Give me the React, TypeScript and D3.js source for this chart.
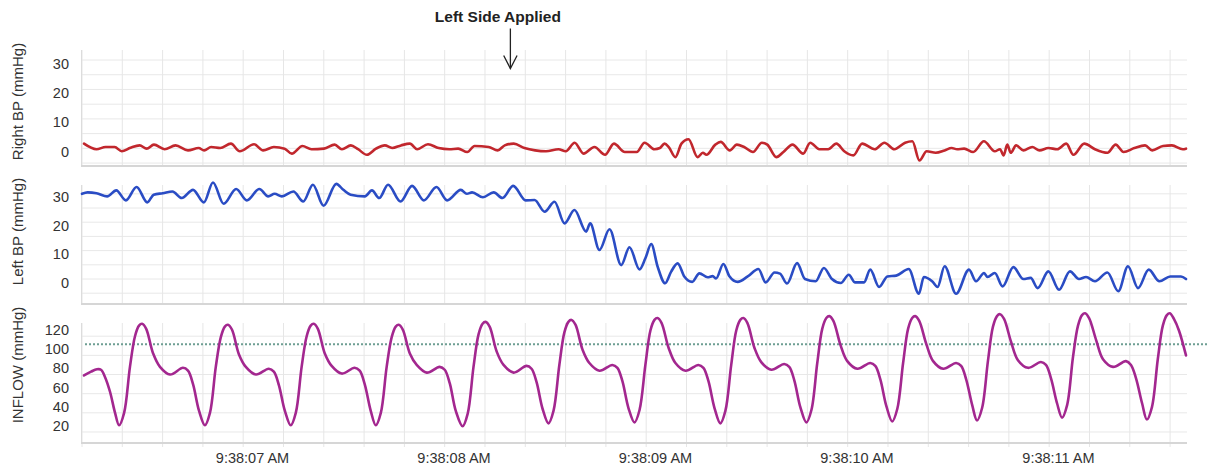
import React from 'react';
import * as d3 from 'd3';

const W = 1207;
const H = 470;

// time axis: milliseconds after 9:38:06.000 AM
const timeDomain: [number, number] = [200, 5679];
const gridTimes = [200, 400, 600, 800, 1000, 1200, 1400, 1600, 1800, 2000, 2200, 2400, 2600, 2800, 3000, 3200, 3400, 3600, 3800, 4000, 4200, 4400, 4600, 4800, 5000, 5200, 5400, 5600];
const tickTimes = [1000, 2000, 3000, 4000, 5000];
const tickLabels = ['9:38:07 AM', '9:38:08 AM', '9:38:09 AM', '9:38:10 AM', '9:38:11 AM'];

const bpTicks = [0, 10, 20, 30];
const bpGrid = [-5, 0, 5, 10, 15, 20, 25, 30];
const inflowTicks = [20, 40, 60, 80, 100, 120];
const inflowGrid = [10, 30, 50, 70, 90, 110];
const inflowThreshold = 101.5;

const annotationTime = 2326;
const annotationText = 'Left Side Applied';

// [ms, mmHg]
const rightBP: [number, number][] = [
  [210, 1.6], [272, -0.3], [317, 0.45], [362, 0.45], [397, -1.0], [441, 0.2], [486, 1.0], [521, -0.1], [557, 1.25], [610, -0.3],
  [664, 1.0], [726, -0.7], [779, 0.1], [806, -0.7], [841, 0.45], [886, 0.1], [939, 1.6], [983, -1.0], [1054, 1.4], [1099, -0.7],
  [1152, 0.45], [1206, -0.1], [1241, -1.8], [1294, 0.8], [1339, -0.3], [1401, -0.1], [1454, 1.25], [1490, -0.3], [1534, 1.0], [1570, -0.3],
  [1614, -2.2], [1659, -0.1], [1703, 1.0], [1739, 0.1], [1783, 1.0], [1827, 1.6], [1863, -0.3], [1917, 1.4], [1970, 0.1], [2023, -0.3],
  [2067, -0.1], [2112, -1.25], [2148, 0.8], [2218, 0.45], [2263, -0.7], [2298, 1.0], [2343, 1.6], [2396, 0.1], [2449, -0.7], [2503, -1.0],
  [2565, -0.3], [2601, -1.0], [2645, 1.9], [2689, -1.8], [2743, 0.45], [2796, -2.2], [2840, 1.6], [2894, -1.25], [2953, -1.25], [2992, 1.9],
  [3041, -0.3], [3068, 0.1], [3091, 1.6], [3112, 0.45], [3145, -3.0], [3175, 1.6], [3210, 3.1], [3255, -3.0], [3281, -1.5], [3299, -2.2],
  [3343, 1.25], [3370, 2.2], [3415, -0.7], [3450, 1.25], [3486, 0.45], [3530, -1.25], [3574, 1.9], [3601, 1.25], [3646, -3.0], [3681, -1.25],
  [3726, 1.25], [3779, -1.8], [3814, 1.9], [3859, -0.3], [3903, -0.3], [3944, 1.6], [3983, -1.0], [4028, -2.4], [4072, 1.6], [4134, -0.3],
  [4182, 1.9], [4232, -0.3], [4285, 1.9], [4321, 2.4], [4356, -4.1], [4392, -1.0], [4437, -1.5], [4481, -0.7], [4516, 0.1], [4543, -0.3],
  [4578, -0.1], [4623, -1.25], [4676, 2.4], [4730, -1.0], [4756, -0.3], [4774, -2.4], [4792, 1.25], [4809, -1.5], [4836, 1.0], [4872, -0.7],
  [4916, 0.45], [4952, -0.7], [4996, 0.1], [5040, -0.3], [5085, 1.6], [5120, -2.2], [5174, 1.6], [5227, -0.3], [5289, -1.5], [5330, 1.25],
  [5369, -1.25], [5423, 0.1], [5476, 1.0], [5511, -0.7], [5565, 0.8], [5609, 1.0], [5663, -0.3], [5679, -0.1],
];

const leftBP: [number, number][] = [
  [200, 30], [228, 30.5], [272, 30.2], [325, 29.1], [370, 31.2], [418, 27.7], [471, 32.4], [524, 27], [556, 29.7], [601, 30.2],
  [649, 30.8], [695, 28.5], [751, 31.4], [805, 27], [850, 34], [903, 26.5], [965, 31.7], [1018, 27.7], [1080, 31.7], [1124, 29.1],
  [1156, 30], [1192, 29.1], [1249, 30.8], [1298, 27.3], [1346, 33.2], [1399, 25.8], [1462, 33.5], [1497, 31.4], [1533, 29.7], [1604, 29.1],
  [1639, 31.2], [1675, 28.5], [1719, 33.2], [1781, 27.3], [1838, 32.8], [1897, 27.7], [1959, 32.4], [2012, 27.7], [2080, 31.4], [2110, 30],
  [2136, 30.5], [2190, 28.8], [2243, 30.5], [2287, 28.5], [2340, 32.8], [2402, 27.7], [2446, 27.8], [2496, 23.7], [2545, 27.2], [2595, 19.6],
  [2644, 24.3], [2702, 16.7], [2722, 19.6], [2768, 10.2], [2818, 17.5], [2876, 4.9], [2917, 11.2], [2967, 3.4], [2996, 7.3], [3025, 12.3],
  [3057, 4.3], [3094, -1.5], [3124, 2.6], [3156, 5.5], [3190, 0.8], [3228, -1], [3264, 2], [3305, 0.6], [3330, 1], [3347, 0.2],
  [3383, 5.3], [3413, 1], [3454, -1], [3504, 0.9], [3557, 3.5], [3593, -1.2], [3637, 2.3], [3664, 1.9], [3699, -1.6], [3749, 5.6],
  [3788, 0], [3841, -0.8], [3882, 3.9], [3922, 0], [3966, -1.4], [4005, 1.5], [4037, -1.2], [4081, -1.2], [4112, 3.3], [4156, -2.8],
  [4197, 0.9], [4241, 1.2], [4303, 3.5], [4353, -5.2], [4378, 0.7], [4419, -0.8], [4446, -2.8], [4481, 4.5], [4538, -5.2], [4602, 3.3],
  [4637, -0.8], [4677, 2.1], [4694, 0.7], [4730, 2.1], [4769, -2.6], [4822, 4.2], [4872, 0], [4908, 0.4], [4943, -3.2], [4996, 2.7],
  [5049, -3.8], [5103, 2.7], [5148, 0], [5183, 0.7], [5227, -0.8], [5289, 2.3], [5343, -4.3], [5391, 4.5], [5441, -3.2], [5494, 3.3],
  [5547, -0.8], [5601, 0.9], [5654, 0.9], [5679, 0],
];

const inflow: [number, number][] = [
  [210, 69], [245, 73], [274, 75.5], [294, 75], [314, 67.5], [339, 52], [364, 30],
  [384, 17], [409, 30], [438, 78], [463, 110], [483, 121], [498, 123], [518, 118], [553, 92], [587, 78], [637, 70], [701, 77], [726, 74], [751, 60], [781, 32],
  [810, 17], [835, 30], [864, 78], [889, 109], [909, 120], [924, 122], [944, 117], [979, 91], [1013, 78], [1063, 70], [1127, 76], [1152, 73], [1177, 59], [1207, 32],
  [1236, 17], [1261, 30], [1290, 78], [1315, 110], [1335, 121], [1350, 123], [1370, 118], [1405, 92], [1439, 79], [1489, 71], [1553, 77], [1578, 74], [1603, 60], [1633, 32],
  [1658, 17], [1683, 30], [1712, 78], [1737, 109], [1757, 120], [1772, 122], [1792, 117], [1827, 92], [1861, 80], [1911, 72], [1975, 78], [2000, 75], [2025, 61], [2055, 32],
  [2089, 16], [2114, 29], [2143, 78], [2168, 112], [2188, 123], [2203, 125], [2223, 120], [2258, 94], [2292, 80], [2342, 72], [2406, 79], [2431, 76], [2456, 62], [2486, 34],
  [2515, 19], [2540, 32], [2569, 80], [2594, 114], [2614, 125], [2629, 127], [2649, 122], [2684, 96], [2718, 82], [2768, 74], [2832, 80], [2857, 77], [2882, 63], [2912, 35],
  [2942, 20], [2967, 33], [2996, 80], [3021, 116], [3041, 127], [3056, 129], [3076, 124], [3111, 98], [3145, 82], [3195, 74], [3259, 80], [3284, 77], [3309, 63], [3339, 35],
  [3368, 19], [3393, 32], [3422, 80], [3447, 116], [3467, 127], [3482, 129], [3502, 124], [3537, 98], [3571, 83], [3621, 75], [3685, 81], [3710, 78], [3735, 64], [3765, 36],
  [3795, 20], [3820, 33], [3849, 82], [3874, 118], [3894, 129], [3909, 131], [3929, 126], [3964, 101], [3998, 84], [4048, 76], [4112, 82], [4137, 79], [4162, 65], [4192, 37],
  [4221, 21], [4246, 34], [4275, 82], [4300, 118], [4320, 129], [4335, 131], [4355, 126], [4390, 102], [4424, 84], [4474, 76], [4538, 82], [4563, 79], [4588, 65], [4618, 38],
  [4642, 22], [4667, 35], [4696, 84], [4721, 120], [4741, 131], [4756, 133], [4776, 128], [4811, 104], [4845, 85], [4895, 77], [4959, 83], [4984, 80], [5009, 66], [5039, 40],
  [5064, 25], [5089, 38], [5118, 88], [5143, 121], [5163, 132], [5178, 134], [5198, 129], [5233, 106], [5267, 86], [5317, 78], [5381, 84], [5406, 80], [5431, 66], [5461, 40],
  [5485, 23], [5510, 36], [5539, 86], [5564, 121], [5584, 132], [5599, 134], [5619, 128], [5644, 116], [5679, 90],
];

const FONT = "'Liberation Sans', Arial, Helvetica, sans-serif";

type Panel = {
  key: string;
  title: string;
  titleY: number;
  top: number;
  bottom: number;
  domain: [number, number];
  ticks: number[];
  grid: number[];
  data: [number, number][];
  color: string;
  smooth: boolean;
};

const panels: Panel[] = [
  { key: 'right', title: 'Right BP (mmHg)', titleY: 101.5, top: 50, bottom: 166, domain: [-6, 33.4], ticks: bpTicks, grid: bpGrid, data: rightBP, color: '#c1272d', smooth: false },
  { key: 'left', title: 'Left BP (mmHg)', titleY: 231.5, top: 185, bottom: 304, domain: [-8.8, 33.1], ticks: bpTicks, grid: bpGrid, data: leftBP, color: '#2a4cc4', smooth: false },
  { key: 'inflow', title: 'INFLOW (mmHg)', titleY: 365, top: 323, bottom: 443, domain: [-1.5, 123.8], ticks: inflowTicks, grid: inflowGrid, data: inflow, color: '#a3278f', smooth: true },
];

export default function App() {
  const x = d3.scaleLinear().domain(timeDomain).range([82, 1186]);
  const left = 82;
  const right = 1187;
  const annX = x(annotationTime);

  return (
    <svg width={W} height={H} style={{ position: 'absolute', left: 0, top: 0, background: '#fff' }} fontFamily={FONT}>
      <rect x={0} y={0} width={W} height={H} fill="#fff" />
      {panels.map((p, pi) => {
        const y = d3.scaleLinear().domain(p.domain).range([p.bottom, p.top]);
        const line = d3
          .line<[number, number]>()
          .x((d) => x(d[0]))
          .y((d) => y(d[1]))
          .curve(p.smooth ? d3.curveCatmullRom.alpha(0.5) : d3.curveMonotoneX);
        const isLast = pi === panels.length - 1;
        return (
          <g key={p.key}>
            {p.grid.map((g) => (
              <line key={'h' + g} x1={left} x2={right} y1={y(g)} y2={y(g)} stroke="#e8e8e8" strokeWidth={1} />
            ))}
            {gridTimes.map((t) => (
              <line key={'v' + t} x1={x(t)} x2={x(t)} y1={p.top} y2={p.bottom + (isLast ? 4 : 0)} stroke="#e6e6e6" strokeWidth={1} />
            ))}
            <line x1={left - 0.5} x2={left - 0.5} y1={p.top} y2={p.bottom} stroke="#dcdcdc" strokeWidth={1} />
            <line x1={left - 1} x2={right} y1={p.bottom} y2={p.bottom} stroke="#d6d6d6" strokeWidth={2} />
            {p.ticks.map((tk) => (
              <text key={'t' + tk} x={69} y={y(tk) + 8.5} textAnchor="end" fontSize={14.5} fill="#333">
                {tk}
              </text>
            ))}
            <text transform={`translate(23,${p.titleY}) rotate(-90)`} textAnchor="middle" fontSize={15} fill="#333">
              {p.title}
            </text>
            {p.key === 'inflow' && (
              <line
                x1={left + 3}
                x2={W}
                y1={y(inflowThreshold)}
                y2={y(inflowThreshold)}
                stroke="#6e9e93"
                strokeWidth={2}
                strokeDasharray="2 2"
              />
            )}
            <path d={line(p.data) || ''} fill="none" stroke={p.color} strokeWidth={2.6} strokeLinejoin="round" strokeLinecap="round" />
            {isLast &&
              tickTimes.map((t, i) => (
                <text key={'xl' + t} x={x(t) + 9.3} y={463} textAnchor="middle" fontSize={14.5} fill="#333">
                  {tickLabels[i]}
                </text>
              ))}
          </g>
        );
      })}
      <text x={annX - 12.5} y={21.5} textAnchor="middle" fontSize={15.5} fontWeight="bold" fill="#222">
        {annotationText}
      </text>
      <line x1={annX} x2={annX} y1={28.5} y2={68.5} stroke="#222" strokeWidth={1.3} />
      <polyline points={`${annX - 6.7},55.5 ${annX},68.5 ${annX + 6.7},55.5`} fill="none" stroke="#222" strokeWidth={1.3} />
    </svg>
  );
}
